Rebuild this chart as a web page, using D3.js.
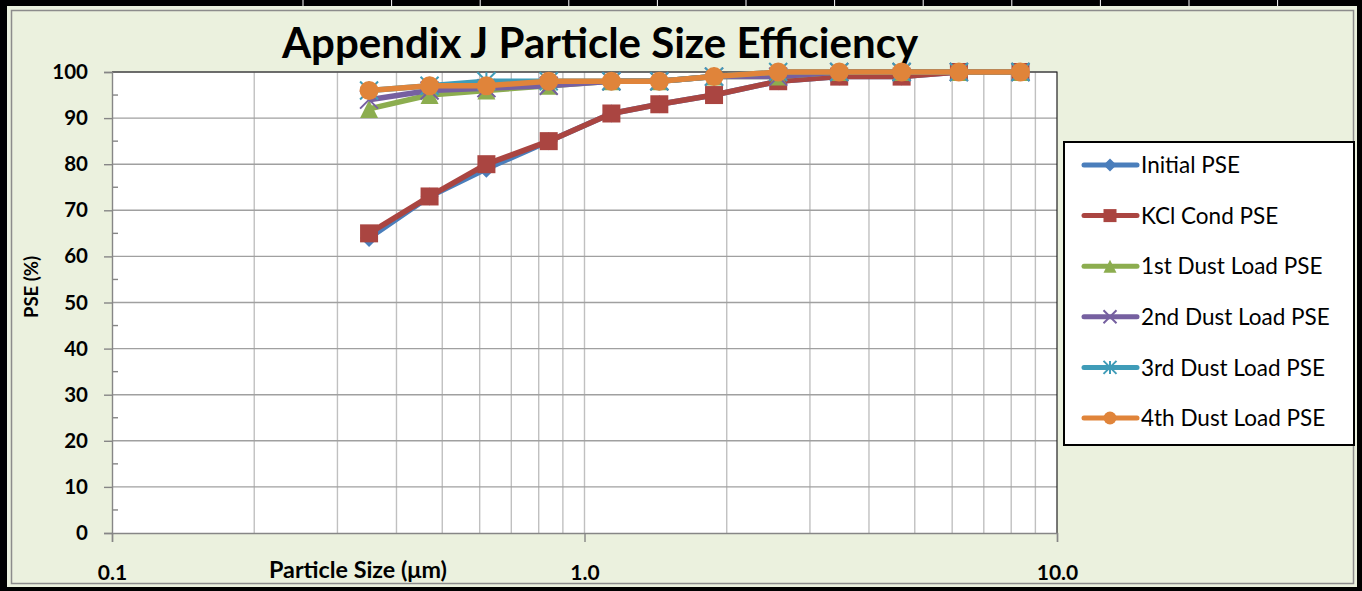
<!DOCTYPE html>
<html>
<head>
<meta charset="utf-8">
<script src="https://cdnjs.cloudflare.com/ajax/libs/d3/7.8.5/d3.min.js"></script>
<style>
    html, body { margin: 0; padding: 0; background: #000; }
    svg { display: block; }
    text { font-family: Lato, "Open Sans", sans-serif; fill: #000; }
</style>
</head>
<body>
<svg id="chart"></svg>
<script>
// Particle size channels (geometric mean, um)
var sizes = [0.35, 0.47, 0.62, 0.84, 1.14, 1.44, 1.88, 2.57, 3.46, 4.69, 6.20, 8.37];

// PSE values per test stage (%)
var initialPSE = [64, 73, 79, 85, 91, 93, 95, 98, 99, 99, 100, 100];
var kclCondPSE = [65, 73, 80, 85, 91, 93, 95, 98, 99, 99, 100, 100];
var dust1PSE   = [92, 95, 96, 97, 98, 98, 99, 99, 100, 100, 100, 100];
var dust2PSE   = [94, 96, 96.5, 97, 98, 98, 99, 99, 100, 100, 100, 100];
var dust3PSE   = [96, 97, 98, 98, 98, 98, 99, 100, 100, 100, 100, 100];
var dust4PSE   = [96, 97, 97, 98, 98, 98, 99, 100, 100, 100, 100, 100];

var seriesNames = ['Initial PSE', 'KCl Cond PSE', '1st Dust Load PSE', '2nd Dust Load PSE', '3rd Dust Load PSE', '4th Dust Load PSE'];
var seriesValues = [initialPSE, kclCondPSE, dust1PSE, dust2PSE, dust3PSE, dust4PSE];
var seriesColors = ['#4a7ebb', '#aa4541', '#8cad4f', '#7660a0', '#3f9cb8', '#e0843a'];
var seriesMarkers = ['diamond', 'square', 'triangle', 'x', 'star', 'circle'];

var xTicks = [0.1, 1, 10];
var xTickLabels = ['0.1', '1.0', '10.0'];
var xMinorTicks = [0.2, 0.3, 0.4, 0.5, 0.6, 0.7, 0.8, 0.9, 1, 2, 3, 4, 5, 6, 7, 8, 9];
var yTicks = [0, 10, 20, 30, 40, 50, 60, 70, 80, 90, 100];
var yMinorTicks = [5, 15, 25, 35, 45, 55, 65, 75, 85, 95];

var width = 1362,
    height = 591,
    plot = { left: 112, right: 1057, top: 72, bottom: 533 };

var svg = d3.select('#chart')
    .attr('width', width)
    .attr('height', height);

// spreadsheet frame
svg.append('rect').attr('width', width).attr('height', height).attr('fill', '#000');
svg.selectAll('.cell-line')
    .data(d3.range(303, 1280, 88.6))
    .enter().append('line')
    .attr('x1', function(d) { return d; })
    .attr('x2', function(d) { return d; })
    .attr('y1', 0).attr('y2', 6)
    .attr('stroke', '#fff').attr('stroke-width', 1);

// chart area
svg.append('rect')
    .attr('x', 7).attr('y', 6)
    .attr('width', 1350).attr('height', 581)
    .attr('fill', '#ebf1de');
svg.append('rect')
    .attr('x', 11.5).attr('y', 10.5)
    .attr('width', 1342).attr('height', 573)
    .attr('fill', 'none')
    .attr('stroke', '#8c8c8c')
    .attr('stroke-width', 1.5);

var x = d3.scaleLog()
    .domain([0.1, 10])
    .range([plot.left, plot.right]);

var y = d3.scaleLinear()
    .domain([0, 100])
    .range([plot.bottom, plot.top]);

// plot area
svg.append('rect')
    .attr('x', plot.left).attr('y', plot.top)
    .attr('width', plot.right - plot.left)
    .attr('height', plot.bottom - plot.top)
    .attr('fill', '#fff');

// gridlines
svg.append('g').selectAll('line')
    .data(xMinorTicks)
    .enter().append('line')
    .attr('x1', function(d) { return x(d); })
    .attr('x2', function(d) { return x(d); })
    .attr('y1', plot.top).attr('y2', plot.bottom)
    .attr('stroke', '#c0c0c0')
    .attr('stroke-width', 1.4);

svg.append('g').selectAll('line')
    .data(yTicks.slice(1))
    .enter().append('line')
    .attr('x1', plot.left).attr('x2', plot.right)
    .attr('y1', function(d) { return y(d); })
    .attr('y2', function(d) { return y(d); })
    .attr('stroke', '#a0a0a0')
    .attr('stroke-width', 1.4);

// plot border (top / right dark)
svg.append('path')
    .attr('d', 'M' + plot.left + ',' + plot.top + 'H' + plot.right + 'V' + plot.bottom)
    .attr('fill', 'none')
    .attr('stroke', '#222')
    .attr('stroke-width', 1.2);

// y axis
var yAxis = d3.axisLeft(y)
    .tickValues(yTicks)
    .tickSize(8)
    .tickPadding(16)
    .tickFormat(d3.format('d'));

var yAxisG = svg.append('g')
    .attr('transform', 'translate(' + plot.left + ',0)')
    .call(yAxis);
yAxisG.select('.domain').attr('stroke', '#868686').attr('stroke-width', 1.4);
yAxisG.selectAll('.tick line').attr('stroke', '#868686').attr('stroke-width', 1.4);
yAxisG.selectAll('.tick text')
    .attr('font-family', 'Lato, sans-serif')
    .attr('font-weight', 'bold')
    .attr('font-size', 20.5)
    .attr('fill', '#000');

svg.append('g').selectAll('line')
    .data(yMinorTicks)
    .enter().append('line')
    .attr('x1', plot.left).attr('x2', plot.left + 6)
    .attr('y1', function(d) { return y(d); })
    .attr('y2', function(d) { return y(d); })
    .attr('stroke', '#868686')
    .attr('stroke-width', 1.4);

// x axis
var xAxis = d3.axisBottom(x)
    .tickValues(xTicks)
    .tickSize(9)
    .tickPadding(23)
    .tickFormat(function(d, i) { return xTickLabels[i]; });

var xAxisG = svg.append('g')
    .attr('transform', 'translate(0,' + plot.bottom + ')')
    .call(xAxis);
xAxisG.select('.domain').attr('stroke', '#868686').attr('stroke-width', 1.4);
xAxisG.selectAll('.tick line').attr('stroke', '#868686').attr('stroke-width', 1.4);
xAxisG.selectAll('.tick text')
    .attr('font-family', 'Lato, sans-serif')
    .attr('font-weight', 'bold')
    .attr('font-size', 21)
    .attr('fill', '#000');

// titles
svg.append('text')
    .attr('x', 600).attr('y', 58)
    .attr('text-anchor', 'middle')
    .attr('font-weight', 'bold')
    .attr('font-size', 42)
    .text('Appendix J Particle Size Efficiency');

svg.append('text')
    .attr('x', 358).attr('y', 578)
    .attr('text-anchor', 'middle')
    .attr('font-weight', 'bold')
    .attr('font-size', 23.3)
    .text('Particle Size (\u03bcm)');

svg.append('text')
    .attr('transform', 'translate(38,287) rotate(-90)')
    .attr('text-anchor', 'middle')
    .attr('font-weight', 'bold')
    .attr('font-size', 18.5)
    .text('PSE (%)');

// draw a marker centred on 0,0
function drawMarker(sel, type, color, s) {
    var h = s / 2;
    if (type === 'diamond') {
        sel.append('path').attr('d', 'M0,' + (-h) + 'L' + h + ',0L0,' + h + 'L' + (-h) + ',0Z').attr('fill', color);
    } else if (type === 'square') {
        sel.append('rect').attr('x', -h).attr('y', -h).attr('width', s).attr('height', s).attr('fill', color);
    } else if (type === 'triangle') {
        sel.append('path').attr('d', 'M0,' + (-h) + 'L' + h + ',' + h + 'L' + (-h) + ',' + h + 'Z').attr('fill', color);
    } else if (type === 'x') {
        sel.append('path').attr('d', 'M' + (-h) + ',' + (-h) + 'L' + h + ',' + h + 'M' + h + ',' + (-h) + 'L' + (-h) + ',' + h)
            .attr('stroke', color).attr('stroke-width', 2);
    } else if (type === 'star') {
        sel.append('path').attr('d', 'M' + (-h) + ',' + (-h) + 'L' + h + ',' + h + 'M' + h + ',' + (-h) + 'L' + (-h) + ',' + h + 'M0,' + (-h) + 'V' + h)
            .attr('stroke', color).attr('stroke-width', 2);
    } else {
        sel.append('circle').attr('r', h).attr('fill', color);
    }
}

var line = d3.line()
    .x(function(d, i) { return x(sizes[i]); })
    .y(function(d) { return y(d); });

// series, last drawn on top
seriesValues.forEach(function(vals, k) {
    var g = svg.append('g').attr('class', 'series');
    g.append('path')
        .attr('d', line(vals))
        .attr('fill', 'none')
        .attr('stroke', seriesColors[k])
        .attr('stroke-width', 5.5)
        .attr('stroke-linejoin', 'round');
    g.selectAll('g.pt')
        .data(vals)
        .enter().append('g')
        .attr('class', 'pt')
        .attr('transform', function(d, i) { return 'translate(' + x(sizes[i]) + ',' + y(d) + ')'; })
        .each(function() {
            drawMarker(d3.select(this), seriesMarkers[k], seriesColors[k], seriesMarkers[k] === 'circle' ? 19 : 18);
        });
});

// legend
var legend = svg.append('g');
legend.append('rect')
    .attr('x', 1064).attr('y', 142)
    .attr('width', 290).attr('height', 303)
    .attr('fill', '#fff')
    .attr('stroke', '#000')
    .attr('stroke-width', 2);

var entry = legend.selectAll('.legend-entry')
    .data(seriesNames)
    .enter().append('g')
    .attr('class', 'legend-entry')
    .attr('transform', function(d, i) { return 'translate(0,' + (165 + i * 50.6) + ')'; });

entry.append('line')
    .attr('x1', 1084).attr('x2', 1137)
    .attr('stroke', function(d, i) { return seriesColors[i]; })
    .attr('stroke-width', 5)
    .attr('stroke-linecap', 'round');

entry.each(function(d, i) {
    var m = d3.select(this).append('g').attr('transform', 'translate(1110,0)');
    drawMarker(m, seriesMarkers[i], seriesColors[i], 13);
});

entry.append('text')
    .attr('x', 1141)
    .attr('dy', '0.36em')
    .attr('font-size', 22.5)
    .text(function(d) { return d; });
</script>
</body>
</html>
